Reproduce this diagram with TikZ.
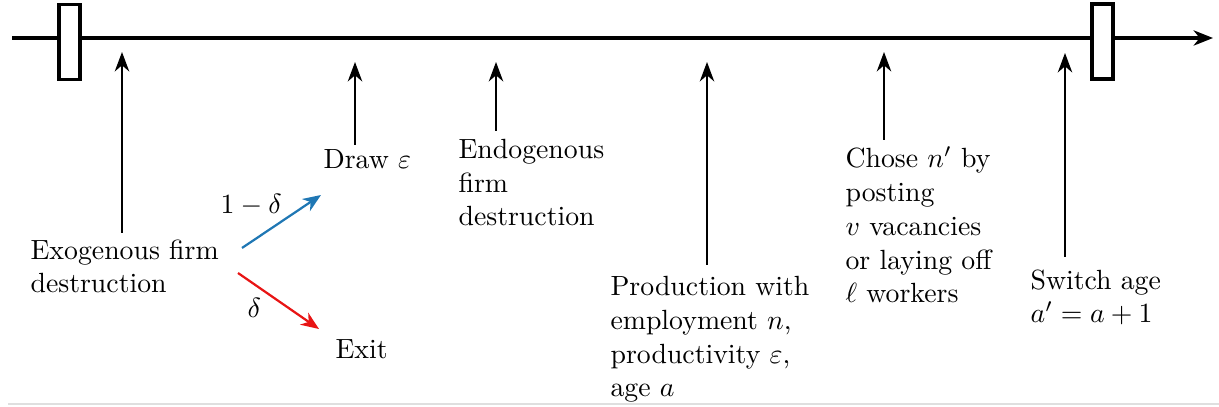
\documentclass[tikz,border=0pt]{standalone}
\usetikzlibrary{arrows.meta}
\definecolor{arrblue}{RGB}{31,119,180}
\definecolor{arrred}{RGB}{232,20,20}
\begin{document}
\begin{tikzpicture}[x=0.36pt,y=-0.36pt,
  lbl/.style={align=left,anchor=base west,inner sep=0pt,font=\fontsize{10}{12.2}\selectfont},
  timeline/.style={line width=1.1pt,-{Stealth[length=7pt,width=5.5pt,inset=2.2pt]}},
  marker/.style={draw,line width=1.4pt,fill=white,minimum width=7.5pt,minimum height=27pt,inner sep=0pt},
  up/.style={line width=0.6pt,-{Stealth[length=7pt,width=5.2pt,inset=2.2pt]}},
  branch/.style={line width=0.8pt,-{Stealth[length=6.5pt,width=5.2pt,inset=2pt]}}]
\useasboundingbox (0,0) rectangle (1219,407);
% faint bottom rule
\coordinate (r0) at (8,404);
\coordinate (r1) at (1219,404);
\draw[gray!25,line width=0.6pt] (r0) -- (r1);
% timeline
\coordinate (ts) at (12,38);
\coordinate (te) at (1213,38);
\draw[timeline] (ts) -- (te);
\node[marker] (m1) at (69.5,42) {};
\node[marker] (m2) at (1102.5,41.5) {};
% labels (anchor = baseline of last line)
\node[lbl] (exo) at (30,293) {Exogenous firm\\destruction};
\node[lbl] (draw) at (323,169) {Draw $\varepsilon$};
\node[lbl] (exit) at (335,359) {Exit};
\node[lbl] (endo) at (458,226) {Endogenous\\firm\\destruction};
\node[lbl] (prod) at (610,397) {Production with\\employment $n$,\\productivity $\varepsilon$,\\age $a$};
\node[lbl] (chose) at (845,303) {Chose $n'$ by\\posting\\$v$ vacancies\\or laying off\\$\ell$ workers};
\node[lbl] (switch) at (1030,323) {Switch age\\$a'=a+1$};
\node[lbl] (p1) at (220,214) {$1-\delta$};
\node[lbl] (p2) at (247,318) {$\delta$};
% up arrows
\coordinate (b1) at (122,233); \coordinate (t1) at (122,52);
\coordinate (b2) at (355,145); \coordinate (t2) at (355,62);
\coordinate (b3) at (496,131); \coordinate (t3) at (496,62);
\coordinate (b4) at (707,265); \coordinate (t4) at (707,62);
\coordinate (b5) at (884,140); \coordinate (t5) at (884,52);
\coordinate (b6) at (1065,257); \coordinate (t6) at (1065,53);
\draw[up] (b1) -- (t1);
\draw[up] (b2) -- (t2);
\draw[up] (b3) -- (t3);
\draw[up] (b4) -- (t4);
\draw[up] (b5) -- (t5);
\draw[up] (b6) -- (t6);
% branches
\coordinate (s1) at (242,248); \coordinate (e1) at (321,195);
\coordinate (s2) at (238,273); \coordinate (e2) at (319,329);
\draw[branch,arrblue] (s1) -- (e1);
\draw[branch,arrred] (s2) -- (e2);
\end{tikzpicture}
\end{document}
